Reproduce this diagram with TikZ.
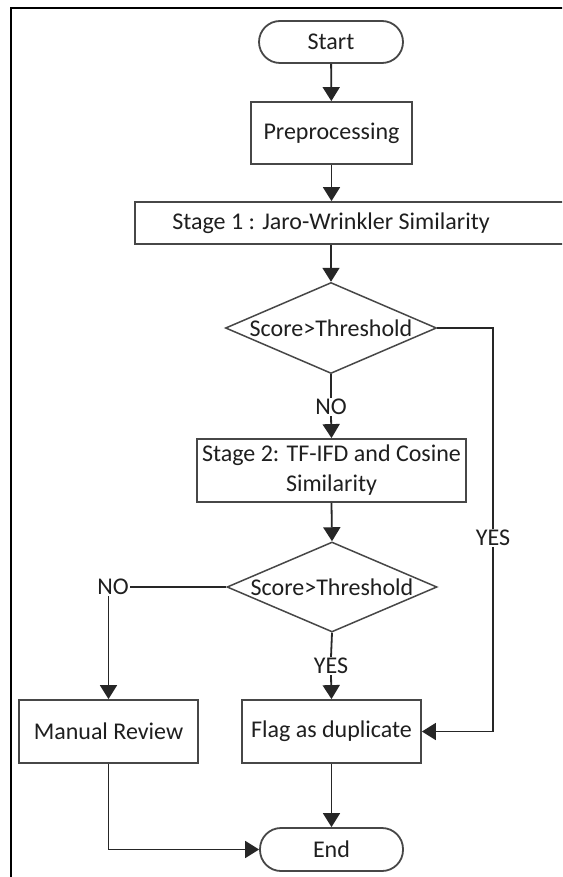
\documentclass[tikz,border=0pt]{standalone}
\usepackage{fontspec}
\setmainfont{Carlito}
\usetikzlibrary{shapes.geometric,arrows.meta}
\begin{document}
\begin{tikzpicture}[x=1pt,y=1pt,
  font=\fontsize{24}{30}\selectfont,
  every node/.style={text=black!88},
  boxn/.style={draw=black!72,line width=1.8pt,minimum width=#1,inner sep=0pt,align=center},
  term/.style={draw=black!72,line width=1.8pt,rounded corners=21pt,minimum width=144pt,minimum height=42pt,inner sep=0pt},
  dia/.style={draw=black!72,line width=1.5pt,shape=diamond,inner sep=0pt,minimum width=211pt,minimum height=91pt},
  lab/.style={fill=white,inner sep=1pt},
  conn/.style={draw=black!85,line width=1.8pt},
  arr/.style={conn,-{Triangle[length=14pt,width=17pt]}}]
\clip (0,0) rectangle (562,-877);
\fill[white] (0,0) rectangle (562,-877);
\draw[line width=2.4pt,black] (11,-8) rectangle (620,-920);

\node[term] (start) at (331,-42) {Start};
\node[boxn=161pt,minimum height=62pt] (pre) at (331.5,-133) {Preprocessing};
\node[boxn=440pt,minimum height=42pt] (s1box) at (355,-223) {};
\node (s1) at (331,-223) {Stage 1 : Jaro-Wrinkler Similarity};
\node[dia] (d1) at (331,-328) {\makebox[0pt]{Score>Threshold}};
\node[lab] (no1) at (331,-407) {NO};
\node[boxn=269pt,minimum height=63pt] (s2) at (331.5,-470.5) {Stage 2: TF-IFD and Cosine\\Similarity};
\node[dia,minimum width=210pt,minimum height=90pt] (d2) at (332,-587) {\makebox[0pt]{Score>Threshold}};
\node[lab] (no2) at (113,-587) {NO};
\node[lab] (yes2) at (331,-666) {YES};
\node[boxn=179pt,minimum height=63pt] (manual) at (108.5,-731.5) {Manual Review};
\node[boxn=179pt,minimum height=63pt] (flag) at (331.5,-731.5) {Flag as duplicate};
\node[term,minimum width=143pt,minimum height=43pt] (end) at (331.5,-849.5) {End};
\coordinate (rt) at (493,-328);

\draw[arr] (start) -- (pre);
\draw[arr] (pre.south) -- (pre.south |- s1box.north);
\draw[arr] (s1box.south -| d1.north) -- (d1.north);
\draw[conn] (d1.south) -- (no1.north);
\draw[arr] (no1.south) -- (s2.north);
\draw[arr] (s2.south) -- (d2.north);
\draw[arr] (d1.east) -- (rt) |- (flag.east);
\node[lab] (yes1) at (493,-538) {YES};
\draw[conn] (d2.west) -- (no2.east);
\draw[arr] (no2.south -| manual.north) -- (manual.north);
\draw[conn] (d2.south) -- (yes2.north);
\draw[arr] (yes2.south) -- (flag.north);
\draw[arr] (flag.south) -- (end.north);
\draw[arr] (manual.south) |- (end.west);
\end{tikzpicture}
\end{document}
